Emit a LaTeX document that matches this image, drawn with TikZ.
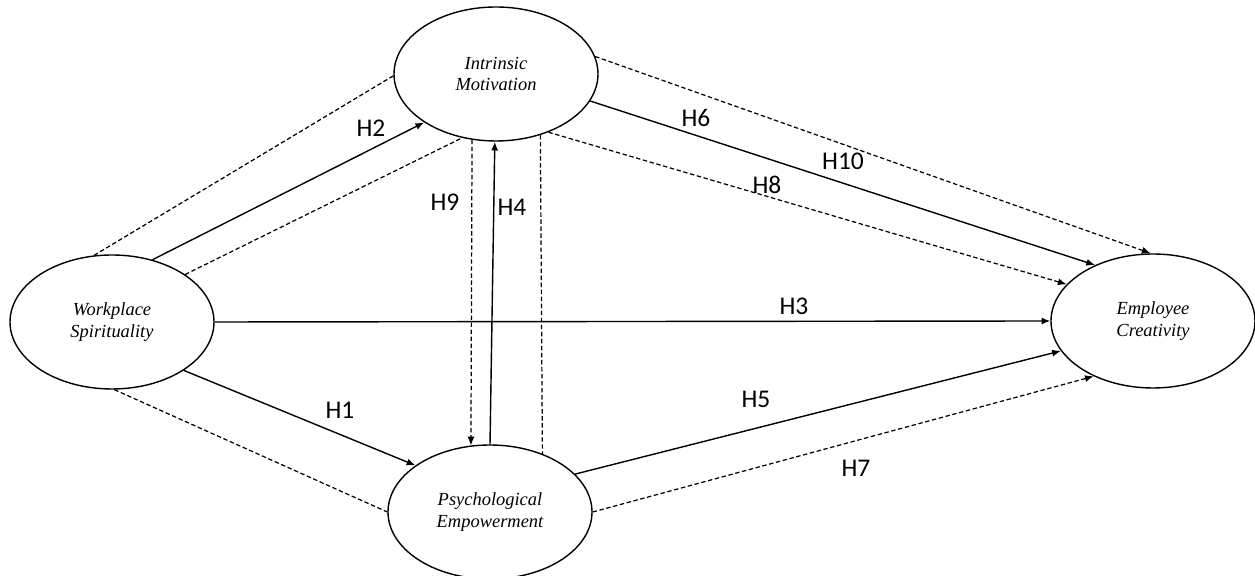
\documentclass[tikz,border=0pt]{standalone}
\usepackage{fontspec}
\setmainfont{Liberation Serif}
\newfontfamily\hypfont{Carlito}
\usetikzlibrary{arrows.meta}
\usetikzlibrary{shapes.geometric}

\begin{document}
\begin{tikzpicture}[
	var/.style={draw, line width=0.8pt, ellipse, minimum width=4.08cm, minimum height=2.68cm,
		inner sep=0pt, align=center, font=\fontsize{10.5}{12.5}\selectfont\itshape},
	hyp/.style={line width=0.8pt, -{Latex[length=5pt,width=4pt]}},
	med/.style={line width=0.7pt, dash pattern=on 2.5pt off 1.5pt},
	medarr/.style={med, -{Latex[length=5pt,width=4pt]}},
	lbl/.style={font=\hypfont\fontsize{14.5}{16}\selectfont, inner sep=0pt}]
	\useasboundingbox (0,0) rectangle (25.10,11.52);

	% Constructs
	\node[var] (im) at (9.92,10.04) {Intrinsic\\Motivation};
	\node[var] (ws) at (2.24,5.08) {Workplace\\Spirituality};
	\node[var] (pe) at (9.80,1.28) {Psychological\\Empowerment};
	\node[var] (ec) at (23.06,5.10) {Employee\\Creativity};

	% Direct paths
	\draw[hyp] (ws.57.6) -- (im.214.6);
	\draw[hyp] (ws.326.7) -- (pe.148.4);
	\draw[hyp] (ws.0) -- (ec.180);
	\draw[hyp] (pe.90) -- (im.269);
	\draw[hyp] (pe.24.1) -- (ec.198.8);
	\draw[hyp] (im.344.8) -- (ec.136);

	% Mediated paths (dashed)
	\draw[med] (ws.105) -- (im.181);
	\draw[med] (ws.33.9) -- (im.242.7);
	\draw[med] (ws.272) -- (pe.180);
	\draw[med] (im.306.8) -- (pe.48.7);
	\draw[medarr] (im.250.6) -- (pe.106.9);
	\draw[medarr] (im.312.5) -- (ec.157.1);
	\draw[medarr] (im.10.7) -- (ec.92.5);
	\draw[medarr] (pe.0) -- (ec.223);

	% Hypothesis labels
	\node[lbl] (h1) at (6.80,3.32) {H1};
	\node[lbl] (h2) at (7.42,8.96) {H2};
	\node[lbl] (h3) at (15.88,5.40) {H3};
	\node[lbl] (h4) at (10.24,7.38) {H4};
	\node[lbl] (h5) at (15.12,3.54) {H5};
	\node[lbl] (h6) at (13.92,9.16) {H6};
	\node[lbl] (h7) at (17.12,2.16) {H7};
	\node[lbl] (h8) at (15.34,7.82) {H8};
	\node[lbl] (h9) at (8.90,7.48) {H9};
	\node[lbl] (h10) at (16.86,8.30) {H10};
\end{tikzpicture}
\end{document}
